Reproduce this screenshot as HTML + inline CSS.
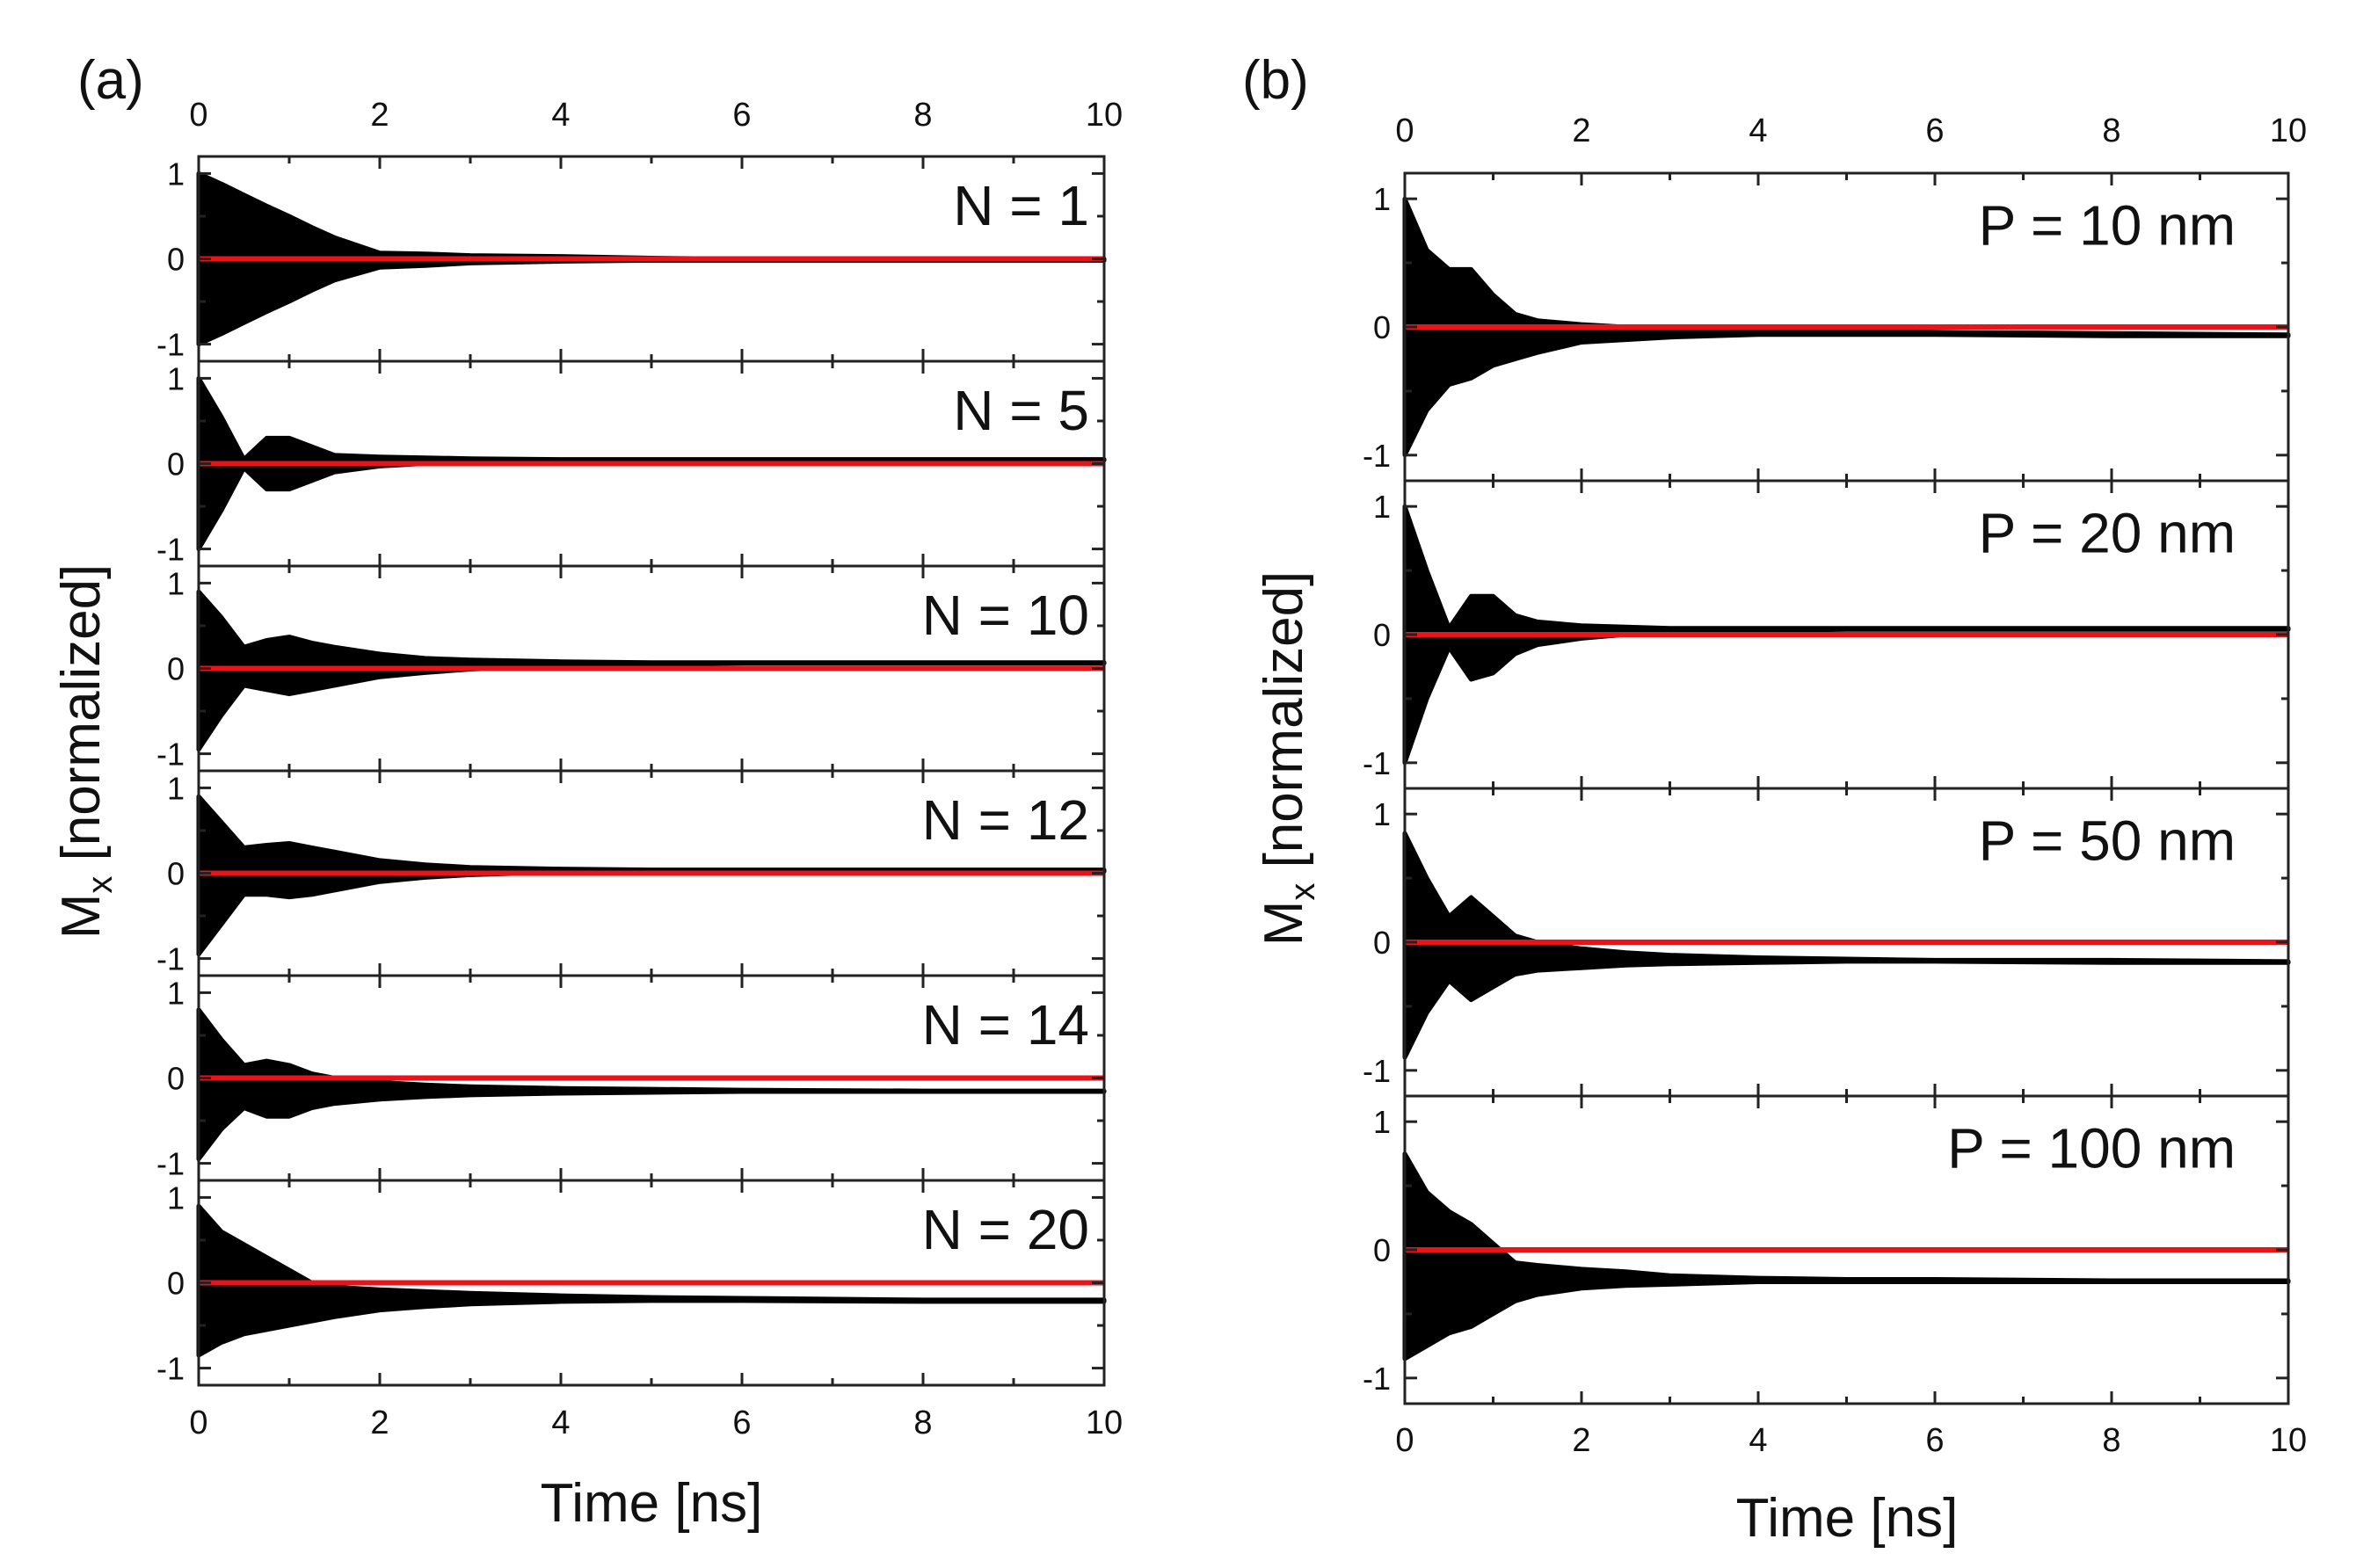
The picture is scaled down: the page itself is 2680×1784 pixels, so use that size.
<!DOCTYPE html>
<html><head><meta charset="utf-8"><style>
html,body{margin:0;padding:0;background:#fff}
svg{display:block}
text{font-family:"Liberation Sans",sans-serif;fill:#111}
</style></head><body>
<svg id="fig" width="2680" height="1784" viewBox="0 0 2680 1784" xmlns="http://www.w3.org/2000/svg">
<text x="88" y="112" font-size="62">(a)</text>
<text x="1413" y="112" font-size="62">(b)</text>
<text x="741" y="1731" font-size="62" text-anchor="middle">Time [ns]</text>
<text x="2101" y="1748" font-size="62" text-anchor="middle">Time [ns]</text>
<text transform="translate(113,855) rotate(-90)" font-size="62" text-anchor="middle">M<tspan font-size="40" dy="14">x</tspan><tspan dy="-14"> [normalized]</tspan></text>
<text transform="translate(1481,863) rotate(-90)" font-size="62" text-anchor="middle">M<tspan font-size="40" dy="14">x</tspan><tspan dy="-14"> [normalized]</tspan></text>
</svg>
<script>
const times=[0,0.25,0.5,0.75,1,1.25,1.5,2,2.5,3,4,5,6,8,10];
const xTicks=["0","2","4","6","8","10"];
const yTicks=["-1","0","1"];
const labelsA=["N = 1","N = 5","N = 10","N = 12","N = 14","N = 20"];
const labelsB=["P = 10 nm","P = 20 nm","P = 50 nm","P = 100 nm"];
const upperA=[
[1,0.88,0.75,0.62,0.5,0.37,0.25,0.07,0.06,0.04,0.03,0.01,0,0,0],
[1,0.55,0.05,0.3,0.3,0.2,0.1,0.08,0.07,0.06,0.05,0.05,0.05,0.05,0.05],
[0.9,0.6,0.25,0.33,0.37,0.3,0.25,0.17,0.12,0.1,0.08,0.07,0.07,0.07,0.07],
[0.9,0.6,0.3,0.33,0.35,0.3,0.25,0.15,0.1,0.07,0.05,0.04,0.04,0.04,0.04],
[0.8,0.45,0.15,0.2,0.15,0.05,0,-0.05,-0.08,-0.1,-0.12,-0.13,-0.14,-0.15,-0.15],
[0.9,0.6,0.45,0.3,0.15,0,-0.05,-0.08,-0.1,-0.12,-0.15,-0.17,-0.18,-0.2,-0.2]];
const lowerA=[
[-1,-0.88,-0.75,-0.62,-0.5,-0.37,-0.25,-0.1,-0.08,-0.05,-0.03,-0.02,-0.02,-0.02,-0.02],
[-1,-0.55,-0.05,-0.3,-0.3,-0.2,-0.1,-0.03,0,0.02,0.03,0.04,0.04,0.04,0.04],
[-0.95,-0.55,-0.2,-0.25,-0.3,-0.25,-0.2,-0.1,-0.05,-0.01,0.03,0.05,0.06,0.06,0.06],
[-0.95,-0.6,-0.25,-0.25,-0.28,-0.25,-0.2,-0.1,-0.05,-0.02,0.01,0.02,0.02,0.02,0.02],
[-0.95,-0.6,-0.35,-0.45,-0.45,-0.35,-0.3,-0.25,-0.22,-0.2,-0.18,-0.17,-0.16,-0.16,-0.16],
[-0.85,-0.7,-0.6,-0.55,-0.5,-0.45,-0.4,-0.32,-0.28,-0.25,-0.22,-0.21,-0.21,-0.22,-0.22]];
const upperB=[
[1,0.6,0.45,0.45,0.25,0.1,0.05,0.02,0,-0.01,-0.02,-0.03,-0.04,-0.05,-0.06],
[1,0.5,0.05,0.3,0.3,0.15,0.1,0.07,0.06,0.05,0.05,0.05,0.05,0.05,0.05],
[0.85,0.5,0.2,0.35,0.2,0.05,0,-0.05,-0.08,-0.1,-0.12,-0.13,-0.14,-0.14,-0.15],
[0.75,0.45,0.3,0.2,0.05,-0.1,-0.12,-0.15,-0.17,-0.2,-0.22,-0.23,-0.23,-0.24,-0.24]];
const lowerB=[
[-1,-0.65,-0.45,-0.4,-0.3,-0.25,-0.2,-0.12,-0.1,-0.08,-0.06,-0.06,-0.06,-0.07,-0.07],
[-1,-0.5,-0.1,-0.35,-0.3,-0.15,-0.08,-0.03,0,0.02,0.03,0.04,0.04,0.04,0.04],
[-0.9,-0.55,-0.3,-0.45,-0.35,-0.25,-0.22,-0.2,-0.18,-0.17,-0.16,-0.15,-0.15,-0.16,-0.16],
[-0.85,-0.75,-0.65,-0.6,-0.5,-0.4,-0.35,-0.3,-0.28,-0.27,-0.25,-0.25,-0.25,-0.25,-0.25]];

const NS="http://www.w3.org/2000/svg";
const svg=document.getElementById('fig');
function mk(tag,attrs,parent){const e=document.createElementNS(NS,tag);for(const k in attrs)e.setAttribute(k,attrs[k]);(parent||svg).appendChild(e);return e;}

function panel(cfg){
  const {left,right,top,h,labels,up,lo,prefix,topLblY,botLblY,labelRight,labelFrac}=cfg;
  const n=labels.length;
  const xs=t=>left+(right-left)*t/10;
  for(let i=0;i<n;i++){
    const y0=top+i*h;
    const ys=v=>y0+h*(1.2-v)/2.4;
    const g=mk('g',{});
    
    
    let d='';
    times.forEach((t,j)=>{d+=(j?'L':'M')+xs(t).toFixed(1)+','+ys(up[i][j]).toFixed(1);});
    for(let j=times.length-1;j>=0;j--)d+='L'+xs(times[j]).toFixed(1)+','+ys(lo[i][j]).toFixed(1);
    d+='Z';
    const env=mk('path',{d:d,fill:'#000',stroke:'#000','stroke-width':5,'stroke-linejoin':'round'},g);
    
    
    const red=mk('line',{x1:xs(0),x2:xs(10),y1:ys(0),y2:ys(0),stroke:'#e8141a','stroke-width':6},g);
    
    
    const fr=mk('rect',{x:left,y:y0,width:right-left,height:h,fill:'none',stroke:'#222','stroke-width':3},g);
    
    
    for(let t=0;t<=10;t++){
      const L=t%2===0?14:8;
      mk('line',{x1:xs(t),x2:xs(t),y1:y0,y2:y0+L,stroke:'#222','stroke-width':3},g);
      mk('line',{x1:xs(t),x2:xs(t),y1:y0+h,y2:y0+h-L,stroke:'#222','stroke-width':3},g);
    }
    [-1,-0.5,0,0.5,1].forEach(v=>{
      const L=Number.isInteger(v)?14:8;
      mk('line',{x1:left,x2:left+L,y1:ys(v),y2:ys(v),stroke:'#222','stroke-width':3},g);
      mk('line',{x1:right,x2:right-L,y1:ys(v),y2:ys(v),stroke:'#222','stroke-width':3},g);
    });
    yTicks.forEach(s=>{
      const tx=mk('text',{x:left-16,y:ys(parseFloat(s))+13,'font-size':36,'text-anchor':'end'},g);
      tx.textContent=s;
      
      
    });
    const lb=mk('text',{x:labelRight,y:y0+h*labelFrac+22,'font-size':64,'text-anchor':'end'},g);
    lb.textContent=labels[i];
    
    
  }
  xTicks.forEach(s=>{
    const v=parseFloat(s);
    const a=mk('text',{x:xs(v),y:topLblY,'font-size':38,'text-anchor':'middle'});
    a.textContent=s;
    
    
    const b=mk('text',{x:xs(v),y:botLblY,'font-size':38,'text-anchor':'middle'});
    b.textContent=s;
    
    
  });
}
panel({left:226,right:1256,top:178,h:233,labels:labelsA,up:upperA,lo:lowerA,prefix:'panel-a',topLblY:143,botLblY:1631,labelRight:1239,labelFrac:0.24});
panel({left:1598,right:2603,top:197,h:350,labels:labelsB,up:upperB,lo:lowerB,prefix:'panel-b',topLblY:161,botLblY:1651,labelRight:2543,labelFrac:0.17});
</script>
</body></html>
